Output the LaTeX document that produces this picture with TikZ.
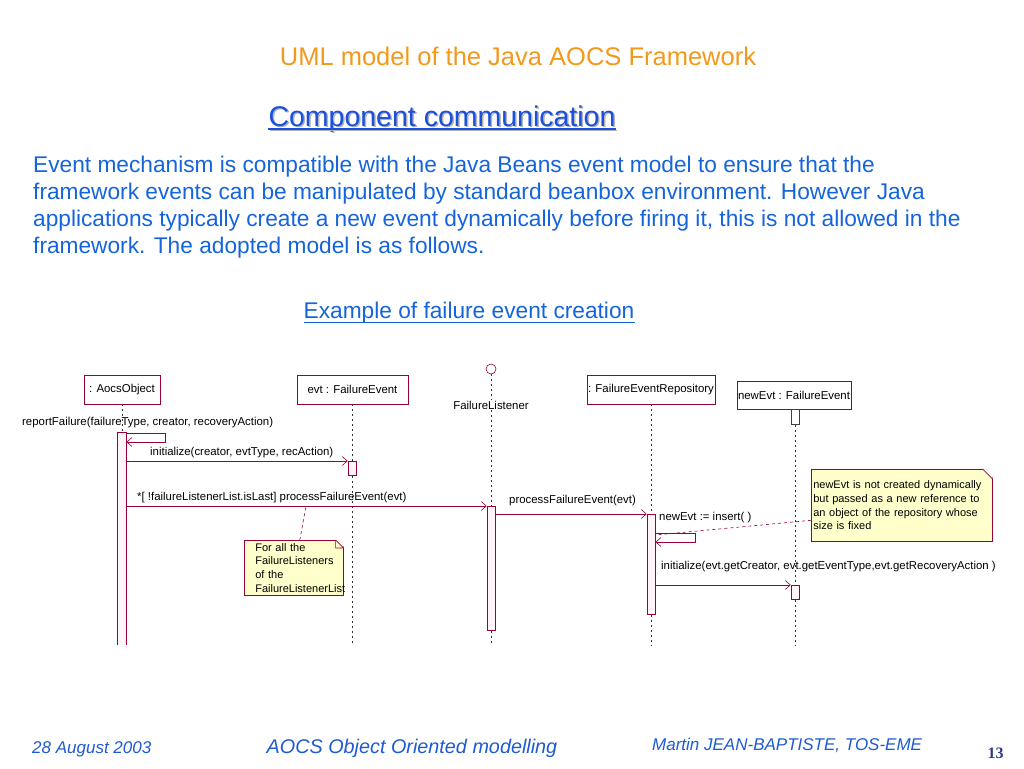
\documentclass[tikz,border=0pt]{standalone}
\usepackage{fontspec}
\setmainfont{Liberation Sans}
\newfontfamily\numfont{Liberation Serif}
\usepackage{tikz}
\usetikzlibrary{positioning,calc,arrows.meta}

\definecolor{titleorange}{RGB}{242,153,28}
\definecolor{headblue}{RGB}{25,80,220}
\definecolor{bodyblue}{RGB}{20,100,220}
\definecolor{footblue}{RGB}{30,90,210}
\definecolor{numblue}{RGB}{40,60,140}
\definecolor{umlred}{RGB}{153,0,51}
\definecolor{actfill}{RGB}{255,244,250}
\definecolor{notefill}{RGB}{255,255,204}

\tikzset{
  umlfont/.style={font=\fontsize{11.4}{13}\selectfont},
  objbox/.style={draw=umlred, semithick, fill=white, minimum height=29pt, inner sep=0pt, umlfont},
  lifeline/.style={draw=black!80, dash pattern=on 2pt off 3pt, semithick},
  actbar/.style={draw=umlred, semithick, fill=actfill, minimum width=8pt, inner sep=0pt},
  msg/.style={draw=umlred, semithick, -{Straight Barb[length=5pt,width=9pt]}},
  msglabel/.style={umlfont, anchor=base west, inner sep=0pt},
  notebox/.style={draw=umlred, semithick, fill=notefill, anchor=north west, align=left,
    inner ysep=2pt, font=\fontsize{11}{13.8}\selectfont},
  notelink/.style={draw=umlred, semithick, dash pattern=on 3pt off 3pt},
  bodytext/.style={anchor=base west, inner sep=0pt, text=bodyblue, font=\fontsize{22.7}{26}\selectfont},
  foottext/.style={inner sep=0pt, text=footblue, font=\itshape},
}

\begin{document}
\begin{tikzpicture}[x=1pt, y=-1pt]
  \useasboundingbox (0,0) rectangle (1024,768);

  % Title and heading
  \node[anchor=base, inner sep=0pt, text=titleorange, font=\fontsize{25.5}{28}\selectfont] (title) at (518,66) {UML model of the Java AOCS Framework};
  \node[anchor=base, inner sep=0pt, text=black!30, font=\fontsize{28.5}{31}\selectfont] at (443.5,127.5) {Component communication};
  \node[anchor=base, inner sep=0pt, text=headblue, font=\fontsize{28.5}{31}\selectfont] (head) at (442,126) {Component communication};
  \draw[black!30, line width=1.6pt] ([xshift=1.5pt,yshift=-4.5pt]head.base west) -- ([xshift=1.5pt,yshift=-4.5pt]head.base east);
  \draw[headblue, line width=1.6pt] ([yshift=-3pt]head.base west) -- ([yshift=-3pt]head.base east);

  % Text
  \node[bodytext] (p1) at (33,172) {Event mechanism is compatible with the Java Beans event model to ensure that the};
  \node[bodytext] (p2) at (33,199) {framework events can be manipulated by standard beanbox environment. However Java};
  \node[bodytext] (p3) at (33,226) {applications typically create a new event dynamically before firing it, this is not allowed in the};
  \node[bodytext] (p4) at (33,253) {framework. The adopted model is as follows.};

  \node[anchor=base, inner sep=0pt, text=bodyblue, font=\fontsize{22.7}{26}\selectfont] (example) at (469,318) {Example of failure event creation};
  \draw[bodyblue, line width=1pt] ([yshift=-4.5pt]example.base west) -- ([yshift=-4.5pt]example.base east);

  % Objects
  \coordinate (bot) at (0,645);
  \node[objbox, minimum width=76pt] (aocs) at (122,389.5) {: AocsObject};
  \node[objbox, minimum width=111pt] (evt) at (352.5,389.5) {evt : FailureEvent};
  \node[objbox, minimum width=128pt] (repo) at (651,389.5) {: FailureEventRepository};
  \node[objbox, minimum width=114pt, minimum height=28pt] (newevt) at (794,395) {newEvt : FailureEvent};
  \node[circle, draw=umlred, semithick, minimum size=10pt, inner sep=0pt] (lsn) at (491,369) {};
  \node[umlfont, inner sep=1pt] (lsnlbl) at (491,405) {FailureListener};

  % Activations
  \draw[umlred, semithick, fill=actfill] (117,645) -- (117,432) -- (126,432) -- (126,645);
  \node[actbar, minimum height=14pt, anchor=north] (evtact) at (352,461) {};
  \node[actbar, minimum height=124pt, anchor=north] (lsnact) at (491,506) {};
  \node[actbar, minimum height=100pt, anchor=north] (repoact) at (651,514) {};
  \node[actbar, draw=black!75, fill=white, minimum height=15pt, anchor=north] (newact0) at (795,409) {};
  \node[actbar, minimum height=14pt, anchor=north] (newact) at (795,585) {};

  % Lifelines
  \draw[lifeline] (aocs.south) -- (122,432);
  \draw[lifeline] (evt.south -| evtact.north) -- (evtact.north);
  \draw[lifeline] (evtact.south) -- (evtact.south |- bot);
  \draw[lifeline] (lsn.south) -- (lsnlbl.north);
  \draw[lifeline] (lsnlbl.south) -- (lsnact.north);
  \draw[lifeline] (lsnact.south) -- (lsnact.south |- bot);
  \draw[lifeline] (repo.south) -- (repoact.north);
  \draw[lifeline] (repoact.south) -- (repoact.south |- bot);
  \draw[lifeline] (newact0.south) -- (newact.north);
  \draw[lifeline] (newact.south) -- (newact.south |- bot);

  % Messages
  \node[msglabel] (m0) at (22,425) {reportFailure(failureType, creator, recoveryAction)};
  \draw[msg] (126,433) -| (165,442) -- (126.5,442);
  \node[msglabel] (m1) at (150,455) {initialize(creator, evtType, recAction)};
  \draw[msg] (126,461) -- (evtact.north west);
  \node[msglabel] (m2) at (137,500) {*[ !failureListenerList.isLast] processFailureEvent(evt)};
  \draw[msg] (126,506) -- (lsnact.north west);
  \node[msglabel] (m3) at (509,503) {processFailureEvent(evt)};
  \draw[msg] (lsnact.east |- repoact.north) -- (repoact.north west);
  \node[msglabel] (m4) at (659,520) {newEvt := insert( )};
  \draw[msg] (repoact.east |- 0,533) -| (695,542) -- (655.5,542);
  \node[msglabel] (m5) at (661,569) {initialize(evt.getCreator, evt.getEventType,evt.getRecoveryAction )};
  \draw[msg] (repoact.east |- newact.north) -- (newact.north west);

  % Notes
  \node[notebox, text width=77pt, inner xsep=11pt, minimum height=55pt] (note1) at (244,540)
    {For all the\\FailureListeners\\of the\\FailureListenerList};
  \fill[white] ([xshift=-8pt]note1.north east) -- ([xshift=0.5pt]note1.north east) -- ([yshift=-8pt]note1.north east) -- cycle;
  \draw[umlred, semithick] ([xshift=-8pt]note1.north east) -- ([yshift=-8pt]note1.north east)
    (note1.north east) ++(-8pt,0) -- ++(0,-8pt) -- ++(8pt,0);
  \coordinate (loop) at (306,506);
  \draw[notelink] ([xshift=6pt]note1.north) -- (loop);

  \node[notebox, text width=177pt, inner xsep=2pt, minimum height=72pt] (note2) at (811,469)
    {newEvt is not created dynamically\\but passed as a new reference to\\an object of the repository whose\\size is fixed};
  \fill[white] ([xshift=-10pt]note2.north east) -- ([xshift=0.5pt]note2.north east) -- ([yshift=-10pt]note2.north east) -- cycle;
  \draw[umlred, semithick] ([xshift=-10pt]note2.north east) -- ([yshift=-10pt]note2.north east);
  \coordinate (insert) at (655,535);
  \draw[notelink] ([yshift=-15pt]note2.west) -- (insert);

  % Footer
  \node[foottext, anchor=base west, font=\itshape\fontsize{17}{19}\selectfont] (date) at (32,753) {28 August 2003};
  \node[foottext, anchor=base, font=\itshape\fontsize{19.8}{22}\selectfont] (topic) at (412,753) {AOCS Object Oriented modelling};
  \node[foottext, anchor=base west, font=\itshape\fontsize{17}{19}\selectfont] (author) at (652,750) {Martin JEAN-BAPTISTE, TOS-EME};
  \node[anchor=base, inner sep=0pt, text=numblue, font=\numfont\bfseries\fontsize{16}{18}\selectfont] (page) at (995.5,758) {13};
\end{tikzpicture}
\end{document}
